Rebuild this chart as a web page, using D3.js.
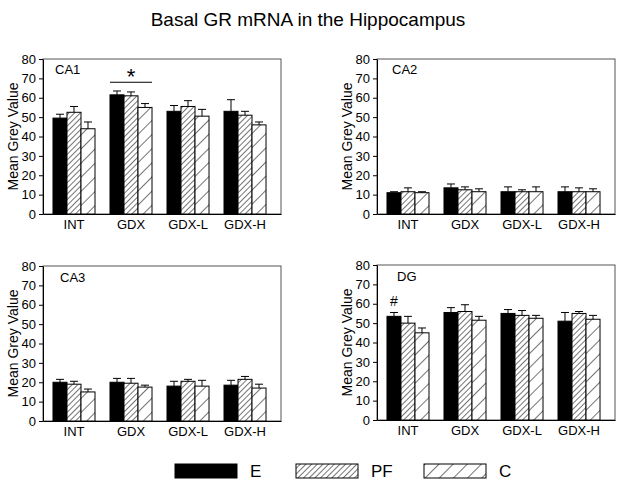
<!DOCTYPE html>
<html lang="en">

<head>
    <meta charset="UTF-8">
    <title>Basal GR mRNA in the Hippocampus</title>
    <script src="https://d3js.org/d3.v7.min.js"></script>
    <style>
        body { margin: 0; background: #fff; }
        svg text { font-family: Arial, "Liberation Sans", sans-serif; fill: #000; }
        .axis path, .axis line { stroke: #000; }
        .axis text { font-size: 13px; }
    </style>
</head>

<body>

    <svg id="chart"></svg>

    <script>
        // groups, series and y ticks
        const groups = ["INT", "GDX", "GDX-L", "GDX-H"];
        const series = ["E", "PF", "C"];
        const yTicks = [0, 10, 20, 30, 40, 50, 60, 70, 80];
        const panelNames = ["CA1", "CA2", "CA3", "DG"];

        // means, one row per series (E, PF, C), one value per group
        const ca1Mean = [[49.5, 61.5, 53, 53], [52.5, 61, 55.5, 51], [44, 55, 50.5, 46]];
        const ca2Mean = [[11, 13.5, 11.5, 11.5], [11.5, 12.5, 11.5, 11.5], [11, 11.5, 11.5, 11.5]];
        const ca3Mean = [[20, 20, 18, 18.5], [19, 19.5, 20.5, 21.5], [15, 17.5, 18, 17]];
        const dgMean = [[53.5, 55.5, 55, 51], [50, 56, 54, 55], [45, 51.5, 52.5, 52]];

        // error (SEM) above each bar
        const ca1Sem = [[2, 2, 3, 6], [3, 2, 3, 2], [3.5, 2, 3.5, 1.5]];
        const ca2Sem = [[0.5, 2, 2.5, 2.5], [2, 1.5, 1, 2], [0.5, 1.5, 2.5, 1.5]];
        const ca3Sem = [[1.5, 2, 2.5, 2.5], [1.5, 2.5, 1, 1.5], [1.5, 1, 3, 2]];
        const dgSem = [[2, 2.5, 2, 4.5], [3.5, 3.5, 2.5, 1], [2.5, 2, 1.5, 2]];

        const width = 624, height = 487;
        const svg = d3.select("#chart").attr("width", width).attr("height", height);

        // hatch patterns
        const defs = svg.append("defs");
        function hatch(id, gap) {
            const p = defs.append("pattern")
                .attr("id", id)
                .attr("patternUnits", "userSpaceOnUse")
                .attr("width", gap).attr("height", gap)
                .attr("patternTransform", "rotate(45)");
            p.append("rect").attr("width", gap).attr("height", gap).attr("fill", "#fff");
            p.append("line").attr("x1", 0).attr("y1", 0).attr("x2", 0).attr("y2", gap)
                .attr("stroke", "#000").attr("stroke-width", 1.1);
        }
        hatch("hatchPF", 4);
        hatch("hatchC", 10);
        const fills = { E: "#000", PF: "url(#hatchPF)", C: "url(#hatchC)" };

        svg.append("text")
            .attr("x", 308).attr("y", 26)
            .attr("text-anchor", "middle")
            .style("font-size", "19px")
            .text("Basal GR mRNA in the Hippocampus");

        const panels = [
            { name: panelNames[0], mean: ca1Mean, sem: ca1Sem, left: 43, top: 59, lx: 12, ly: 15 },
            { name: panelNames[1], mean: ca2Mean, sem: ca2Sem, left: 377, top: 59, lx: 15, ly: 15 },
            { name: panelNames[2], mean: ca3Mean, sem: ca3Sem, left: 43, top: 266, lx: 17, ly: 16 },
            { name: panelNames[3], mean: dgMean, sem: dgSem, left: 377, top: 265, lx: 20, ly: 16 }
        ];
        const pw = 238, ph = 155;

        panels.forEach((p, pi) => {
            const g = svg.append("g").attr("transform", `translate(${p.left},${p.top})`);

            const x = d3.scaleBand().domain(groups).range([0, pw])
                .paddingInner(0.263).paddingOuter(0.219).align(0.4);
            const xs = d3.scaleBand().domain(series).range([0, x.bandwidth()]);
            const y = d3.scaleLinear().domain([0, 80]).range([ph, 0]);

            // frame
            g.append("rect")
                .attr("width", pw).attr("height", ph)
                .attr("fill", "none").attr("stroke", "#555").attr("stroke-width", 1);

            const rows = [];
            series.forEach((s, si) => groups.forEach((gr, gi) => {
                rows.push({ s, gr, v: p.mean[si][gi], e: p.sem[si][gi] });
            }));

            g.selectAll("rect.bar")
                .data(rows)
                .join("rect")
                .attr("class", "bar")
                .attr("x", d => x(d.gr) + xs(d.s))
                .attr("y", d => y(d.v))
                .attr("width", xs.bandwidth())
                .attr("height", d => ph - y(d.v))
                .attr("fill", d => fills[d.s])
                .attr("stroke", "#000").attr("stroke-width", 1);

            // error bars (upper only)
            const eb = g.selectAll("g.err").data(rows).join("g").attr("class", "err")
                .attr("transform", d => `translate(${x(d.gr) + xs(d.s) + xs.bandwidth() / 2},0)`);
            eb.append("line")
                .attr("y1", d => y(d.v)).attr("y2", d => y(d.v + d.e))
                .attr("stroke", "#000");
            eb.append("line")
                .attr("x1", -4).attr("x2", 4)
                .attr("y1", d => y(d.v + d.e)).attr("y2", d => y(d.v + d.e))
                .attr("stroke", "#000");

            // axes
            g.append("g").attr("class", "axis")
                .call(d3.axisLeft(y).tickValues(yTicks).tickSize(4).tickPadding(3).tickSizeOuter(0));
            g.append("g").attr("class", "axis")
                .attr("transform", `translate(0,${ph})`)
                .call(d3.axisBottom(x).tickSize(0).tickPadding(6))
                .call(a => a.select(".domain").attr("stroke", "#000"));

            g.append("text")
                .attr("transform", `translate(${-25},${ph / 2}) rotate(-90)`)
                .attr("text-anchor", "middle")
                .style("font-size", "14px")
                .text("Mean Grey Value");

            g.append("text")
                .attr("x", p.lx).attr("y", p.ly)
                .style("font-size", "13px")
                .text(p.name);

            if (pi === 0) {
                // significance bar over GDX
                g.append("line")
                    .attr("x1", x("GDX")).attr("x2", x("GDX") + x.bandwidth())
                    .attr("y1", y(68)).attr("y2", y(68))
                    .attr("stroke", "#000");
                g.append("text")
                    .attr("x", x("GDX") + x.bandwidth() / 2).attr("y", y(68) + 2)
                    .attr("text-anchor", "middle")
                    .style("font-size", "22px")
                    .text("*");
            }
            if (pi === 3) {
                g.append("text")
                    .attr("x", x("INT") + xs("E") + xs.bandwidth() / 2).attr("y", y(59))
                    .attr("text-anchor", "middle")
                    .style("font-size", "14px")
                    .text("#");
            }
        });

        // legend
        const legendX = [175, 296, 424];
        const legend = svg.append("g").attr("transform", "translate(0,464)");
        series.forEach((s, i) => {
            legend.append("rect")
                .attr("x", legendX[i]).attr("y", 0)
                .attr("width", 62).attr("height", 14)
                .attr("fill", fills[s]).attr("stroke", "#000").attr("stroke-width", 1);
            legend.append("text")
                .attr("x", legendX[i] + 75).attr("y", 13)
                .style("font-size", "17px")
                .text(s);
        });
    </script>
</body>

</html>
